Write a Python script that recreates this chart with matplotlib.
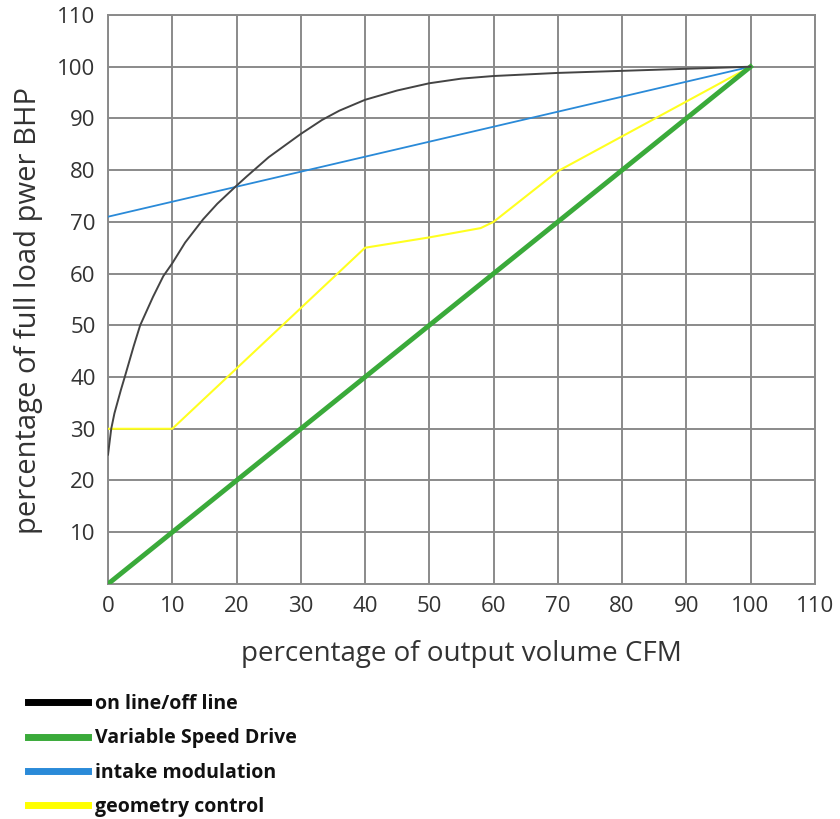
import matplotlib
matplotlib.use("Agg")
import matplotlib.pyplot as plt
from matplotlib.lines import Line2D

# Data
onoff_x = [0, 0.5, 1, 2, 2.6, 4, 5, 7, 8.6, 10, 12, 14.8, 17, 20, 21.6, 25, 30, 33.3, 36, 40, 45, 50, 55, 60, 70, 80, 90, 100]
onoff_y = [25, 30, 33, 37.5, 40, 46, 50, 55.5, 59.5, 62, 66, 70.5, 73.5, 77, 78.8, 82.5, 87, 89.7, 91.5, 93.6, 95.4, 96.8, 97.7, 98.2, 98.8, 99.2, 99.6, 100]

vsd_x = [0, 100]
vsd_y = [0, 100]

intake_x = [0, 100]
intake_y = [71, 100]

geom_x = [0, 10, 40, 50, 58, 60, 70, 100]
geom_y = [30, 30, 65, 67, 68.8, 70, 79.8, 100]

x_ticks = [0, 10, 20, 30, 40, 50, 60, 70, 80, 90, 100, 110]
y_ticks = [10, 20, 30, 40, 50, 60, 70, 80, 90, 100, 110]

labels = ["on line/off line", "Variable Speed Drive", "intake modulation", "geometry control"]
colors = ["#000000", "#3aaa3a", "#2a8ad8", "#ffff00"]

fig = plt.figure(figsize=(8.4, 8.19), dpi=100)
ax = fig.add_axes([0.1286, 0.287, 0.8414, 0.6947])

ax.set_xlim(0, 110)
ax.set_ylim(0, 110)
ax.set_xticks(x_ticks)
ax.set_yticks(y_ticks)
ax.set_xticklabels([str(v) for v in x_ticks])
ax.set_yticklabels([str(v) for v in y_ticks])
ax.grid(True, color="#8a8a8a", linewidth=1.4)
ax.set_axisbelow(True)
for s in ax.spines.values():
    s.set_color("#8a8a8a")
    s.set_linewidth(1.4)
ax.tick_params(length=0, labelsize=16, labelcolor="#333333", pad=9)
for lab in ax.get_xticklabels() + ax.get_yticklabels():
    lab.set_fontfamily("Open Sans")

ax.plot(intake_x, intake_y, color="#2a8ad8", linewidth=1.3, zorder=3)
ax.plot(geom_x, geom_y, color="#ffff20", linewidth=1.5, zorder=3)
ax.plot(vsd_x, vsd_y, color="#3aaa3a", linewidth=3.5, zorder=4)
ax.plot(onoff_x, onoff_y, color="#444444", linewidth=1.4, zorder=5)

ax.set_ylabel("percentage of full load pwer BHP", fontsize=21, color="#333333",
              family="Open Sans", labelpad=10)
ax.yaxis.label.set_y(0.48)
ax.set_xlabel("percentage of output volume CFM", fontsize=20, color="#333333",
              family="Open Sans", labelpad=16)

handles = [Line2D([0], [0], color=c, linewidth=5) for c in colors]
leg = fig.legend(handles, labels, loc="upper left", bbox_to_anchor=(0.033, 1 - 694 / 819),
                 frameon=False, borderpad=0, borderaxespad=0,
                 handlelength=3.1, handletextpad=0.36, labelspacing=0.74,
                 prop={"family": "Open Sans", "weight": "bold", "size": 14})
for t in leg.get_texts():
    t.set_color("#111111")

fig.savefig("out.png", dpi=100, facecolor="white")
